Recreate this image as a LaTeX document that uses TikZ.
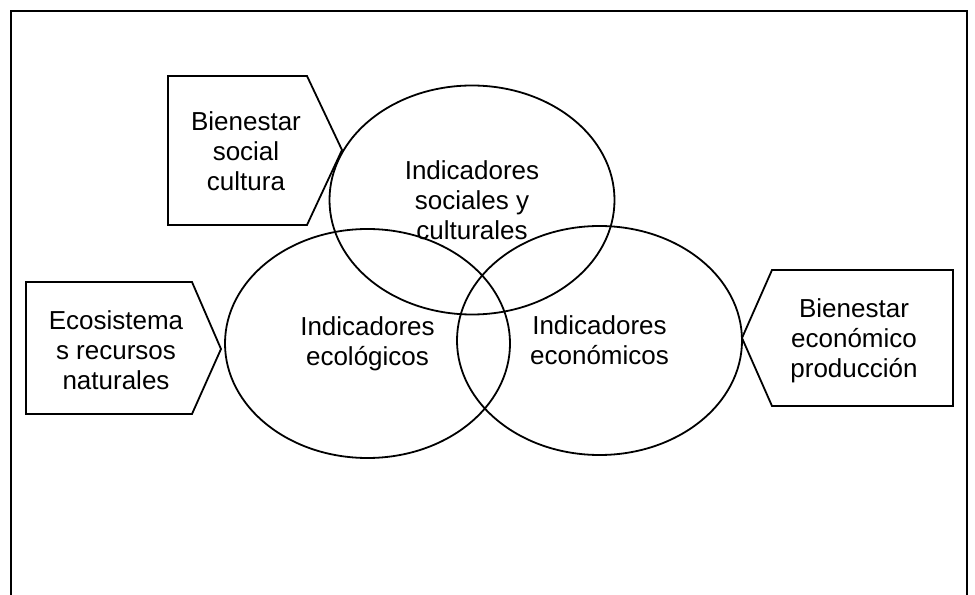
\documentclass[tikz,border=0pt]{standalone}
\usepackage{fontspec}
\setmainfont{Liberation Sans}
\usepackage{tikz}
\usetikzlibrary{shapes.geometric}

\begin{document}
\begin{tikzpicture}[
    x=0.75pt, y=-0.75pt,
    frame/.style={line width=1.7pt},
    tag/.style={draw, line width=1.35pt, line join=miter},
    indic/.style={draw, ellipse, line width=1.35pt, minimum width=213.75pt, minimum height=171.75pt,
      inner sep=0pt, align=center, font=\fontsize{19.5}{22.5}\selectfont},
    txt/.style={align=center, inner sep=0pt, font=\fontsize{19.5}{22.5}\selectfont},
  ]
  \useasboundingbox (0,0) rectangle (975,595);

  % --- Outer frame (open at the bottom) ---
  \draw[frame] (11,595) -- (11,11) -- (967,11) -- (967,595);

  % --- Indicator ellipses ---
  \node[indic] (soc) at (472,200) {Indicadores\\sociales y\\culturales};
  \node[indic] (eco) at (367.5,343.5) {Indicadores\\ecológicos};
  \node[indic] (ecn) at (599.5,340.5) {Indicadores\\económicos};

  % --- Bienestar social ---
  \draw[tag] (168,76) -- (307,76) -- (342,150) -- (307,225) -- (168,225) -- cycle;
  \node[txt] (bsoc) at (246,151) {Bienestar\\social\\cultura};

  % --- Ecosistemas ---
  \draw[tag] (26,282) -- (192,282) -- (221,349) -- (192,414) -- (26,414) -- cycle;
  \node[txt] (becs) at (116,350) {Ecosistema\\s recursos\\naturales};

  % --- Bienestar economico ---
  \draw[tag] (742,338) -- (772,270) -- (953,270) -- (953,406) -- (772,406) -- cycle;
  \node[txt] (becn) at (854,341) {Bienestar\\económico\\producción};

\end{tikzpicture}
\end{document}
